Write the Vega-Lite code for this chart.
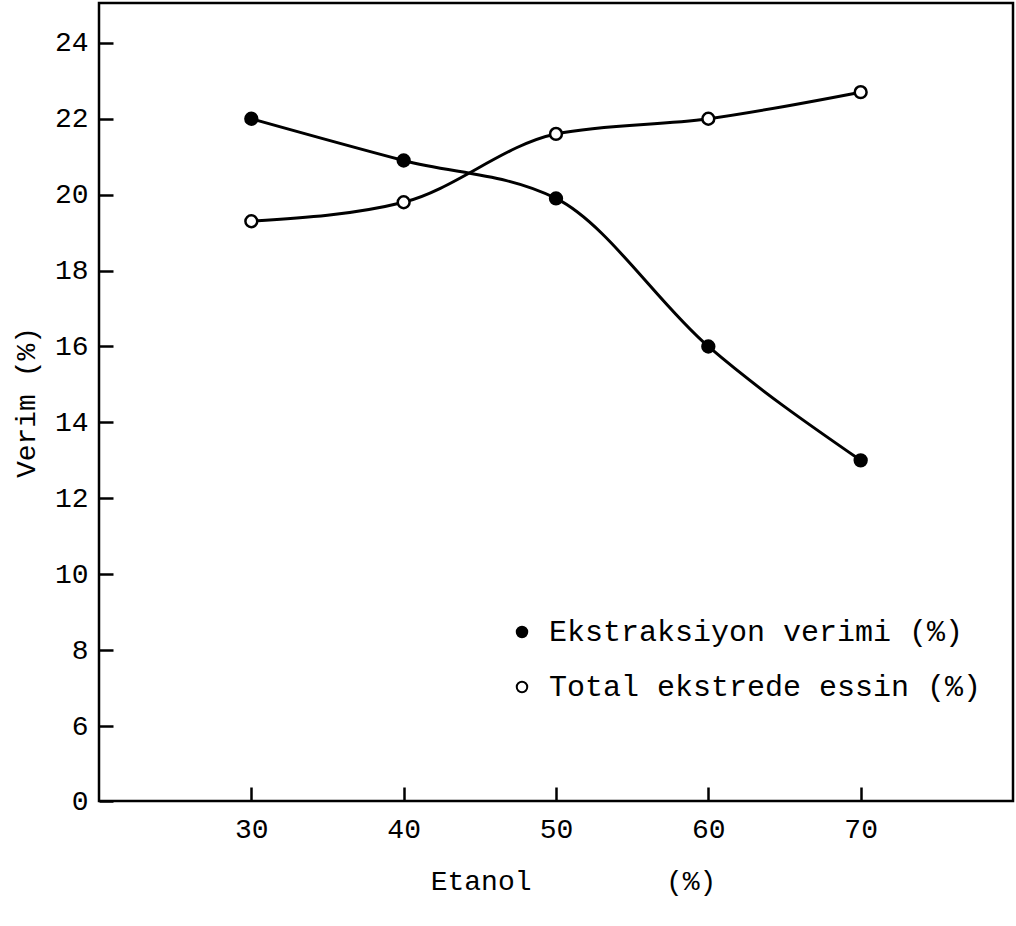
{
  "$schema": "https://vega.github.io/schema/vega-lite/v6.json",
  "width": 914,
  "height": 798,
  "autosize": {"type": "none"},
  "padding": {"left": 99, "top": 3, "right": 3, "bottom": 125},
  "background": "white",
  "config": {
    "view": {"stroke": "black", "strokeWidth": 2.5},
    "font": "Liberation Mono",
    "axis": {
      "domain": false,
      "grid": false,
      "tickColor": "black",
      "tickWidth": 2.5,
      "tickSize": 14,
      "offset": -14,
      "labelFont": "Liberation Mono",
      "labelFontSize": 28,
      "labelColor": "black",
      "titleFont": "Liberation Mono",
      "titleFontSize": 28,
      "titleFontWeight": "normal",
      "titleColor": "black"
    },
    "legend": {
      "labelFont": "Liberation Mono",
      "labelFontSize": 30,
      "labelColor": "black",
      "labelLimit": 0
    }
  },
  "data": {
    "values": [
      {"etanol": 30, "verim": 22.0, "seri": "Ekstraksiyon verimi (%)"},
      {"etanol": 40, "verim": 20.9, "seri": "Ekstraksiyon verimi (%)"},
      {"etanol": 50, "verim": 19.9, "seri": "Ekstraksiyon verimi (%)"},
      {"etanol": 60, "verim": 16.0, "seri": "Ekstraksiyon verimi (%)"},
      {"etanol": 70, "verim": 13.0, "seri": "Ekstraksiyon verimi (%)"},
      {"etanol": 30, "verim": 19.3, "seri": "Total ekstrede essin (%)"},
      {"etanol": 40, "verim": 19.8, "seri": "Total ekstrede essin (%)"},
      {"etanol": 50, "verim": 21.6, "seri": "Total ekstrede essin (%)"},
      {"etanol": 60, "verim": 22.0, "seri": "Total ekstrede essin (%)"},
      {"etanol": 70, "verim": 22.7, "seri": "Total ekstrede essin (%)"}
    ]
  },
  "encoding": {
    "x": {
      "field": "etanol",
      "type": "quantitative",
      "scale": {"domain": [20, 80], "nice": false, "zero": false},
      "axis": {
        "values": [30, 40, 50, 60, 70],
        "title": "Etanol\u00a0\u00a0\u00a0\u00a0\u00a0\u00a0\u00a0\u00a0(%)",
        "titleX": 474,
        "labelPadding": 14,
        "titlePadding": 24
      }
    },
    "y": {
      "field": "verim",
      "type": "quantitative",
      "scale": {"type": "linear", "domain": [0, 6, 25.05], "range": [798, 723, 0], "nice": false, "zero": false},
      "axis": {
        "values": [0, 6, 8, 10, 12, 14, 16, 18, 20, 22, 24],
        "title": "Verim (%)",
        "labelPadding": 11,
        "titlePadding": 14
      }
    }
  },
  "layer": [
    {
      "mark": {"type": "line", "interpolate": "monotone", "color": "black", "strokeWidth": 3},
      "encoding": {"detail": {"field": "seri"}}
    },
    {
      "mark": {"type": "point", "shape": "circle", "filled": true, "size": 140, "stroke": "black", "strokeWidth": 2.5, "opacity": 1},
      "encoding": {
        "fill": {
          "field": "seri",
          "type": "nominal",
          "scale": {"domain": ["Ekstraksiyon verimi (%)", "Total ekstrede essin (%)"], "range": ["black", "white"]},
          "legend": {
            "title": null,
            "orient": "none",
            "legendX": 408,
            "legendY": 614,
            "symbolType": "circle",
            "symbolSize": 110,
            "symbolStrokeColor": "black",
            "symbolStrokeWidth": 2,
            "rowPadding": 25,
            "labelOffset": 12
          }
        }
      }
    }
  ]
}
